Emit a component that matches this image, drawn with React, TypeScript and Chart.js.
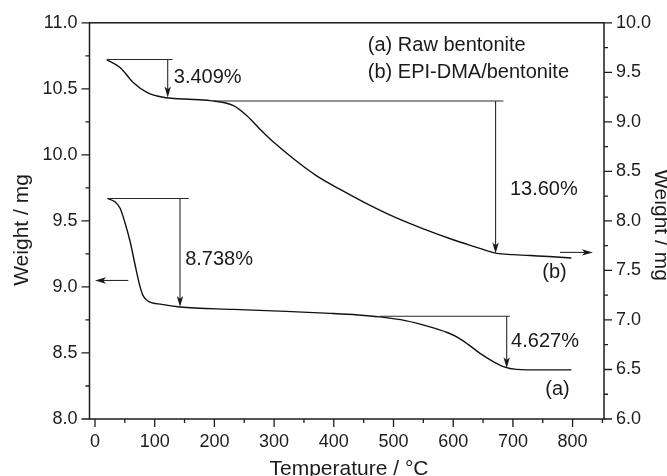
import React, { useEffect, useRef } from 'react';
import { Chart, registerables } from 'chart.js';

Chart.register(...registerables);

// ---- Data ----
// (a) Raw bentonite — left axis (Weight / mg)
const tempA = [21, 33, 42, 50, 59, 67, 75, 81, 89, 112, 142, 232, 320, 394, 440, 477, 520, 561, 590, 606, 625, 645, 665, 684, 706, 750, 798];
const weightA = [9.67, 9.646, 9.596, 9.49, 9.34, 9.17, 9.01, 8.93, 8.893, 8.868, 8.848, 8.83, 8.815, 8.8, 8.788, 8.773, 8.745, 8.698, 8.655, 8.622, 8.565, 8.497, 8.44, 8.397, 8.376, 8.372, 8.372];

// (b) EPI-DMA/bentonite — right axis (Weight / mg)
const tempB = [20, 42, 64, 87, 114, 150, 193, 232, 254, 276, 299, 332, 370, 410, 450, 505, 550, 600, 630, 656, 673, 700, 729, 760, 798];
const weightB = [9.626, 9.549, 9.398, 9.298, 9.248, 9.23, 9.214, 9.164, 9.064, 8.929, 8.796, 8.63, 8.46, 8.32, 8.19, 8.03, 7.92, 7.81, 7.75, 7.7, 7.672, 7.66, 7.65, 7.64, 7.625];

const xTickValues = [0, 100, 200, 300, 400, 500, 600, 700, 800];
const leftTickValues = [8, 8.5, 9, 9.5, 10, 10.5, 11];
const rightTickValues = [6, 6.5, 7, 7.5, 8, 8.5, 9, 9.5, 10];

// Weight-loss brackets (data units): level, x-start, x-end, arrow x, arrow target, label
const bracketAxis = ['y1', 'y1', 'y', 'y'];
const bracketLevel = [9.63, 9.21, 9.67, 8.778];
const bracketX0 = [19.6, 198, 21, 477];
const bracketX1 = [130, 684, 157, 695];
const bracketArrowX = [121.8, 671, 142.4, 689.6];
const bracketArrowTo = [9.247, 7.672, 8.848, 8.384];
const bracketLabel = ['3.409%', '13.60%', '8.738%', '4.627%'];
const bracketLabelX = [132, 695, 151, 697];
const bracketLabelY = [9.448, 8.314, 9.21, 8.585];

// Curve labels and legend text
const noteText = ['(a) Raw bentonite', '(b) EPI-DMA/bentonite', '(b)', '(a)'];
const noteX = [457, 457, 769.7, 774.7];
const noteY = [10.827, 10.624, 9.111, 8.224];
const noteAlign = ['left', 'left', 'center', 'center'];

const FONT = "'Liberation Sans', Arial, Helvetica, sans-serif";
const INK = '#1c1c1c';

const decorPlugin = {
  id: 'decor',
  afterDraw(chart: any) {
    const ctx = chart.ctx as CanvasRenderingContext2D;
    const { left, right, top, bottom } = chart.chartArea;
    const sx = chart.scales.x;
    const sy = chart.scales.y;
    const sy1 = chart.scales.y1;
    ctx.save();
    // frame
    ctx.strokeStyle = INK;
    ctx.lineWidth = 1.5;
    ctx.strokeRect(left, top, right - left, bottom - top);

    // ticks
    ctx.lineWidth = 1.3;
    ctx.beginPath();
    for (let v = 0; v <= 850; v += 50) {
      const px = sx.getPixelForValue(v);
      if (px > right + 0.5) continue;
      const len = v % 100 === 0 ? 8 : 4;
      ctx.moveTo(px, bottom);
      ctx.lineTo(px, bottom + len);
    }
    for (let i = 0; i <= 12; i++) {
      const v = 8 + i * 0.25;
      const py = sy.getPixelForValue(v);
      const len = i % 2 === 0 ? 8 : 4;
      ctx.moveTo(left, py);
      ctx.lineTo(left - len, py);
    }
    for (let i = 0; i <= 16; i++) {
      const v = 6 + i * 0.25;
      const py = sy1.getPixelForValue(v);
      const len = i % 2 === 0 ? 8 : 4;
      ctx.moveTo(right, py);
      ctx.lineTo(right + len, py);
    }
    ctx.stroke();

    const arrowHead = (x: number, y: number, dx: number, dy: number) => {
      const L = 11, W = 3.2;
      const nx = -dy, ny = dx;
      ctx.beginPath();
      ctx.moveTo(x, y);
      ctx.lineTo(x - dx * L + nx * W, y - dy * L + ny * W);
      ctx.lineTo(x - dx * L * 0.75, y - dy * L * 0.75);
      ctx.lineTo(x - dx * L - nx * W, y - dy * L - ny * W);
      ctx.closePath();
      ctx.fill();
    };

    // brackets
    ctx.strokeStyle = '#2a2a2a';
    ctx.fillStyle = '#1a1a1a';
    ctx.lineWidth = 1.1;
    ctx.font = `20px ${FONT}`;
    ctx.textBaseline = 'middle';
    for (let i = 0; i < bracketLevel.length; i++) {
      const ys = bracketAxis[i] === 'y' ? sy : sy1;
      const py = ys.getPixelForValue(bracketLevel[i]);
      const x0 = sx.getPixelForValue(bracketX0[i]);
      const x1 = sx.getPixelForValue(bracketX1[i]);
      const ax = sx.getPixelForValue(bracketArrowX[i]);
      const ay = ys.getPixelForValue(bracketArrowTo[i]);
      ctx.beginPath();
      ctx.moveTo(x0, py);
      ctx.lineTo(x1, py);
      ctx.moveTo(ax, py);
      ctx.lineTo(ax, ay - 8);
      ctx.stroke();
      arrowHead(ax, ay, 0, 1);
      ctx.textAlign = 'left';
      ctx.fillText(bracketLabel[i], sx.getPixelForValue(bracketLabelX[i]), ys.getPixelForValue(bracketLabelY[i]));
    }

    // axis indicator arrows
    {
      const py = sy.getPixelForValue(9.049);
      const xa = sx.getPixelForValue(55.8);
      const xb = sx.getPixelForValue(0);
      ctx.beginPath();
      ctx.moveTo(xa, py);
      ctx.lineTo(xb + 8, py);
      ctx.stroke();
      arrowHead(xb, py, -1, 0);
    }
    {
      const py = sy1.getPixelForValue(7.682);
      const xa = sx.getPixelForValue(779);
      const xb = sx.getPixelForValue(834);
      ctx.beginPath();
      ctx.moveTo(xa, py);
      ctx.lineTo(xb - 8, py);
      ctx.stroke();
      arrowHead(xb, py, 1, 0);
    }

    // notes
    for (let i = 0; i < noteText.length; i++) {
      ctx.textAlign = noteAlign[i] as CanvasTextAlign;
      ctx.fillText(noteText[i], sx.getPixelForValue(noteX[i]), sy.getPixelForValue(noteY[i]));
    }

    // axis titles
    ctx.fillStyle = INK;
    ctx.font = `21px ${FONT}`;
    ctx.textAlign = 'center';
    ctx.textBaseline = 'alphabetic';
    ctx.fillText('Temperature / °C', 349, 475);
    ctx.save();
    ctx.translate(28, 230);
    ctx.rotate(-Math.PI / 2);
    ctx.fillText('Weight / mg', 0, 0);
    ctx.restore();
    ctx.save();
    ctx.translate(655, 225);
    ctx.rotate(Math.PI / 2);
    ctx.fillText('Weight / mg', 0, 0);
    ctx.restore();

    ctx.restore();
  },
};

export default function App() {
  const ref = useRef<HTMLCanvasElement>(null);
  useEffect(() => {
    if (!ref.current) return;
    const tickFont = { family: FONT, size: 18 };
    const chart = new Chart(ref.current, {
      type: 'line',
      data: {
        datasets: [
          {
            label: '(a) Raw bentonite',
            data: tempA.map((t, i) => ({ x: t, y: weightA[i] })),
            yAxisID: 'y',
            borderColor: '#111',
            borderWidth: 1.4,
            pointRadius: 0,
            cubicInterpolationMode: 'monotone',
            fill: false,
          },
          {
            label: '(b) EPI-DMA/bentonite',
            data: tempB.map((t, i) => ({ x: t, y: weightB[i] })),
            yAxisID: 'y1',
            borderColor: '#111',
            borderWidth: 1.4,
            pointRadius: 0,
            cubicInterpolationMode: 'monotone',
            fill: false,
          },
        ],
      },
      options: {
        animation: false,
        responsive: false,
        devicePixelRatio: 1,
        layout: { padding: { top: 20, left: 0, right: 0, bottom: 0 }, autoPadding: false },
        plugins: { legend: { display: false }, tooltip: { enabled: false } },
        scales: {
          x: {
            type: 'linear',
            min: -9.2,
            max: 852.6,
            grid: { display: false, drawTicks: false },
            border: { display: false },
            afterBuildTicks: (s: any) => { s.ticks = xTickValues.map((v) => ({ value: v })); },
            afterFit: (s: any) => { s.height = 57; },
            ticks: { font: tickFont, color: INK, padding: 12, maxRotation: 0, autoSkip: false, callback: (v: any) => String(v) },
          },
          y: {
            type: 'linear',
            position: 'left',
            min: 8,
            max: 11,
            grid: { display: false, drawTicks: false },
            border: { display: false },
            afterBuildTicks: (s: any) => { s.ticks = leftTickValues.map((v) => ({ value: v })); },
            afterFit: (s: any) => { s.width = 89.5; },
            ticks: { font: tickFont, color: INK, padding: 12, autoSkip: false, callback: (v: any) => Number(v).toFixed(1) },
          },
          y1: {
            type: 'linear',
            position: 'right',
            min: 6,
            max: 10,
            grid: { display: false, drawTicks: false },
            border: { display: false },
            afterBuildTicks: (s: any) => { s.ticks = rightTickValues.map((v) => ({ value: v })); },
            afterFit: (s: any) => { s.width = 63; },
            ticks: { font: tickFont, color: INK, padding: 12, autoSkip: false, callback: (v: any) => Number(v).toFixed(1) },
          },
        },
      },
      plugins: [decorPlugin],
    } as any);
    return () => chart.destroy();
  }, []);
  return (
    <div style={{ position: 'fixed', left: 0, top: 0, width: 667, height: 476, background: '#fff' }}>
      <canvas ref={ref} width={667} height={476} style={{ width: 667, height: 476, display: 'block' }} />
    </div>
  );
}
